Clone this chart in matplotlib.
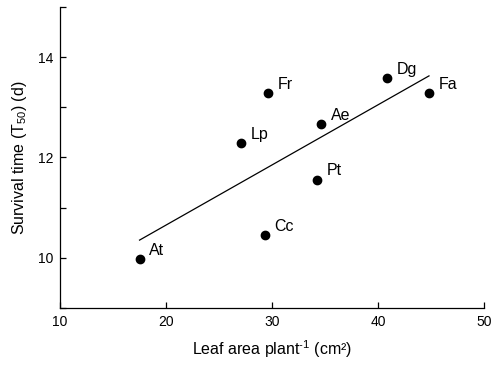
import matplotlib
matplotlib.use("Agg")
import matplotlib.pyplot as plt

species = ["At", "Lp", "Fr", "Ae", "Pt", "Dg", "Fa", "Cc"]
leaf_area = [17.5, 27.1, 29.6, 34.6, 34.2, 40.8, 44.8, 29.3]
survival = [9.97, 12.28, 13.28, 12.67, 11.56, 13.58, 13.28, 10.45]
fit_x = [17.5, 44.8]
fit_y = [10.35, 13.63]
xticks = [10, 20, 30, 40, 50]
yticks = [10, 12, 14]
yminor = [9, 11, 13, 15]

plt.rcParams['font.family'] = ['Liberation Sans', 'DejaVu Sans']
plt.rcParams['mathtext.fontset'] = 'custom'
plt.rcParams['mathtext.rm'] = 'Liberation Sans'

fig = plt.figure(figsize=(4.92, 3.65), dpi=100)
ax = fig.add_axes([0.122, 0.157, 0.862, 0.823])

ax.plot(fit_x, fit_y, color='black', lw=0.9)
ax.plot(leaf_area, survival, 'o', color='black', ms=6, ls='none')
for s, x, y in zip(species, leaf_area, survival):
    ax.annotate(s, (x, y), xytext=(7, 3), textcoords='offset points',
                ha='left', va='baseline', fontsize=11.5)

ax.set_xlim(10, 50)
ax.set_ylim(9, 15)
ax.set_xticks(xticks)
ax.set_yticks(yticks)
ax.set_yticks(yminor, minor=True)
ax.tick_params(direction='in', length=4, width=0.9, labelsize=10)
ax.tick_params(axis='y', pad=4.5)
ax.tick_params(axis='x', pad=5)
ax.tick_params(which='minor', direction='in', length=4, width=0.9)
for sp in ['top', 'right']:
    ax.spines[sp].set_visible(False)
for sp in ['left', 'bottom']:
    ax.spines[sp].set_linewidth(0.9)

ax.set_xlabel("Leaf area plant$^{\\mathregular{\u2010}\\mathregular{1}}$ (cm²)", fontsize=11.5, labelpad=7)
ax.set_ylabel("Survival time (T$_{\\mathregular{50}}$) (d)", fontsize=11.5, labelpad=7)

fig.savefig("out.png", dpi=100)
